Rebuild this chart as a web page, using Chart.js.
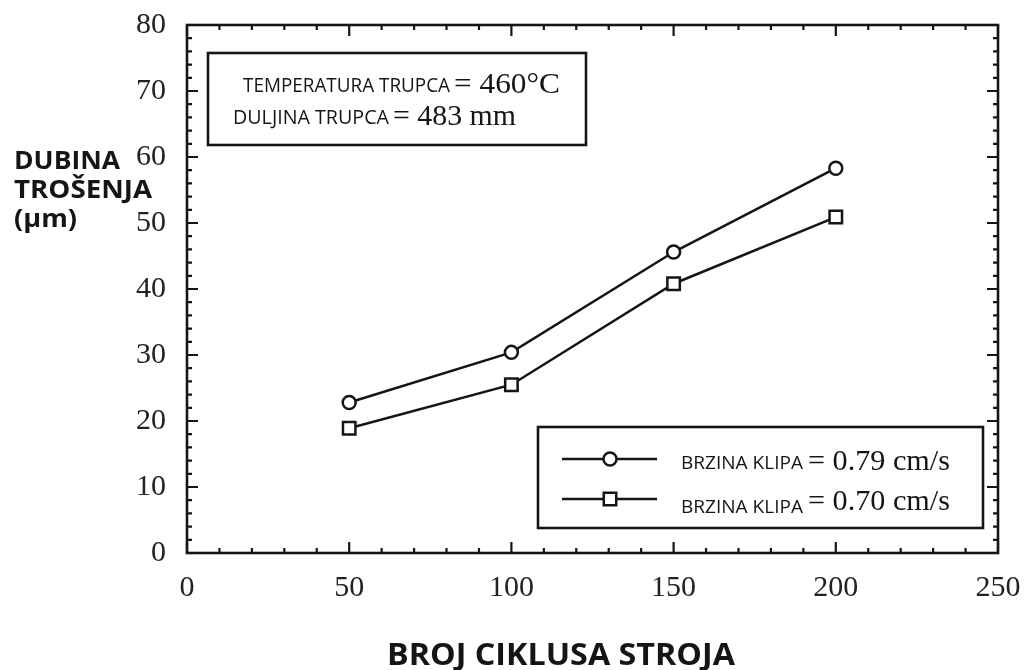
<!DOCTYPE html>
<html>
<head>
<meta charset="utf-8">
<script src="https://cdn.jsdelivr.net/npm/chart.js@4/dist/chart.umd.min.js"></script>
<style>
  html, body { margin: 0; padding: 0; background: #ffffff; }
  #wrap { width: 1028px; height: 670px; }
</style>
</head>
<body>
<div id="wrap"><canvas id="c" width="1028" height="670"></canvas></div>
<script>
// ---- data ----
const cycles = [50, 100, 150, 200];
const depthSpeed079 = [22.8, 30.4, 45.6, 58.3];
const depthSpeed070 = [18.9, 25.5, 40.8, 50.9];
const xTicks = [0, 50, 100, 150, 200, 250];
const yTicks = [0, 10, 20, 30, 40, 50, 60, 70, 80];
const seriesLabels = ['BRZINA KLIPA', 'BRZINA KLIPA'];
const seriesValues = ['= 0.79 cm/s', '= 0.70 cm/s'];
const yTitleLines = ['DUBINA', 'TROŠENJA', '(µm)'];
const xTitle = 'BROJ CIKLUSA STROJA';
const infoLabels = ['TEMPERATURA TRUPCA', 'DULJINA TRUPCA'];
const infoValues = ['= 460°C', '= 483 mm'];

const INK = '#151515';
const SERIF = '"Liberation Serif", "DejaVu Serif", serif';
const SANS = '"Open Sans", "Noto Sans", "Liberation Sans", sans-serif';

function fitText(ctx, str, x, y, font, w) {
  ctx.save();
  ctx.font = font;
  ctx.textAlign = 'left';
  ctx.textBaseline = 'alphabetic';
  const m = ctx.measureText(str).width;
  ctx.translate(x, y);
  ctx.scale(w / m, 1);
  ctx.fillText(str, 0, 0);
  ctx.restore();
}

function drawMarker(ctx, style, x, y, r) {
  ctx.save();
  ctx.lineWidth = 2.5;
  ctx.strokeStyle = INK;
  ctx.fillStyle = '#ffffff';
  ctx.beginPath();
  if (style === 'circle') {
    ctx.arc(x, y, r, 0, Math.PI * 2);
  } else {
    const s = Math.SQRT1_2 * r;
    ctx.rect(x - s, y - s, 2 * s, 2 * s);
  }
  ctx.fill();
  ctx.stroke();
  ctx.restore();
}

const framePlugin = {
  id: 'frame',
  afterDraw(chart) {
    const ctx = chart.ctx;
    const xs = chart.scales.x, ys = chart.scales.y;
    const L = chart.chartArea.left, R = chart.chartArea.right;
    const T = chart.chartArea.top, B = chart.chartArea.bottom;
    ctx.save();
    ctx.strokeStyle = INK;
    ctx.lineCap = 'butt';
    // inward ticks on all four sides
    ctx.lineWidth = 2.2;
    ctx.beginPath();
    for (let v = xs.min; v <= xs.max + 1e-9; v += 10) {
      const px = xs.getPixelForValue(v);
      const len = (v % 50 === 0) ? 11 : 5;
      ctx.moveTo(px, B); ctx.lineTo(px, B - len);
      ctx.moveTo(px, T); ctx.lineTo(px, T + len);
    }
    for (let v = ys.min; v <= ys.max + 1e-9; v += 2) {
      const py = ys.getPixelForValue(v);
      const len = (v % 10 === 0) ? 11 : 5;
      ctx.moveTo(L, py); ctx.lineTo(L + len, py);
      ctx.moveTo(R, py); ctx.lineTo(R - len, py);
    }
    ctx.stroke();
    // frame
    ctx.lineWidth = 2.6;
    ctx.strokeRect(L, T, R - L, B - T);

    // info box (top left)
    ctx.fillStyle = '#ffffff';
    ctx.fillRect(208, 53, 378, 92);
    ctx.lineWidth = 2.6;
    ctx.strokeRect(208, 53, 378, 92);
    ctx.fillStyle = INK;
    fitText(ctx, infoLabels[0], 243, 92, '20px ' + SANS, 207);
    fitText(ctx, infoValues[0], 454, 93, '29px ' + SERIF, 106);
    fitText(ctx, infoLabels[1], 233, 124, '20px ' + SANS, 156);
    fitText(ctx, infoValues[1], 393, 125, '29px ' + SERIF, 123);

    // legend box (bottom right)
    ctx.fillStyle = '#ffffff';
    ctx.fillRect(538, 427, 445, 101);
    ctx.strokeRect(538, 427, 445, 101);
    const ds = chart.data.datasets;
    const rows = [459, 499];
    const txtBase = [[469, 470], [513, 510]];
    for (let i = 0; i < ds.length; i++) {
      const y = rows[i];
      ctx.strokeStyle = INK;
      ctx.lineWidth = 2.5;
      ctx.beginPath();
      ctx.moveTo(562, y); ctx.lineTo(657, y);
      ctx.stroke();
      drawMarker(ctx, ds[i].pointStyle, 610, y, ds[i].pointRadius);
      ctx.fillStyle = INK;
      fitText(ctx, seriesLabels[i], 681, txtBase[i][0], '18px ' + SANS, 122);
      fitText(ctx, seriesValues[i], 808, txtBase[i][1], '29px ' + SERIF, 142);
    }

    // axis titles
    ctx.fillStyle = INK;
    fitText(ctx, yTitleLines[0], 14, 169, 'bold 25px ' + SANS, 106);
    fitText(ctx, yTitleLines[1], 14, 198, 'bold 25px ' + SANS, 138);
    fitText(ctx, yTitleLines[2], 14, 227, 'bold 25px ' + SANS, 63);
    fitText(ctx, xTitle, 387, 665, 'bold 31px ' + SANS, 348);
    ctx.restore();
  }
};

new Chart(document.getElementById('c'), {
  type: 'line',
  data: {
    datasets: [
      {
        label: seriesLabels[0] + ' ' + seriesValues[0],
        data: cycles.map((c, i) => ({ x: c, y: depthSpeed079[i] })),
        borderColor: INK, borderWidth: 2.5,
        pointStyle: 'circle', pointRadius: 6.5,
        pointBackgroundColor: '#ffffff', pointBorderColor: INK, pointBorderWidth: 2.5,
        tension: 0, fill: false
      },
      {
        label: seriesLabels[1] + ' ' + seriesValues[1],
        data: cycles.map((c, i) => ({ x: c, y: depthSpeed070[i] })),
        borderColor: INK, borderWidth: 2.5,
        pointStyle: 'rect', pointRadius: 8.8,
        pointBackgroundColor: '#ffffff', pointBorderColor: INK, pointBorderWidth: 2.5,
        tension: 0, fill: false
      }
    ]
  },
  options: {
    responsive: false,
    animation: false,
    layout: { padding: { left: 0, right: 30, top: 25, bottom: 0 } },
    plugins: { legend: { display: false }, tooltip: { enabled: false } },
    scales: {
      x: {
        type: 'linear', min: xTicks[0], max: xTicks[xTicks.length - 1],
        afterBuildTicks(s) { s.ticks = xTicks.map(v => ({ value: v })); },
        afterFit(s) { s.height = 117; s.paddingLeft = 0; s.paddingRight = 0; },
        grid: { display: false, drawTicks: false },
        border: { display: false },
        ticks: { color: '#222', padding: 17, maxRotation: 0, font: { family: SERIF, size: 30 } }
      },
      y: {
        type: 'linear', min: yTicks[0], max: yTicks[yTicks.length - 1],
        afterBuildTicks(s) { s.ticks = yTicks.map(v => ({ value: v })); },
        afterFit(s) { s.width = 187; s.paddingTop = 0; s.paddingBottom = 0; },
        grid: { display: false, drawTicks: false },
        border: { display: false },
        ticks: { color: '#222', padding: 21, font: { family: SERIF, size: 30 } }
      }
    }
  },
  plugins: [framePlugin]
});
</script>
</body>
</html>
